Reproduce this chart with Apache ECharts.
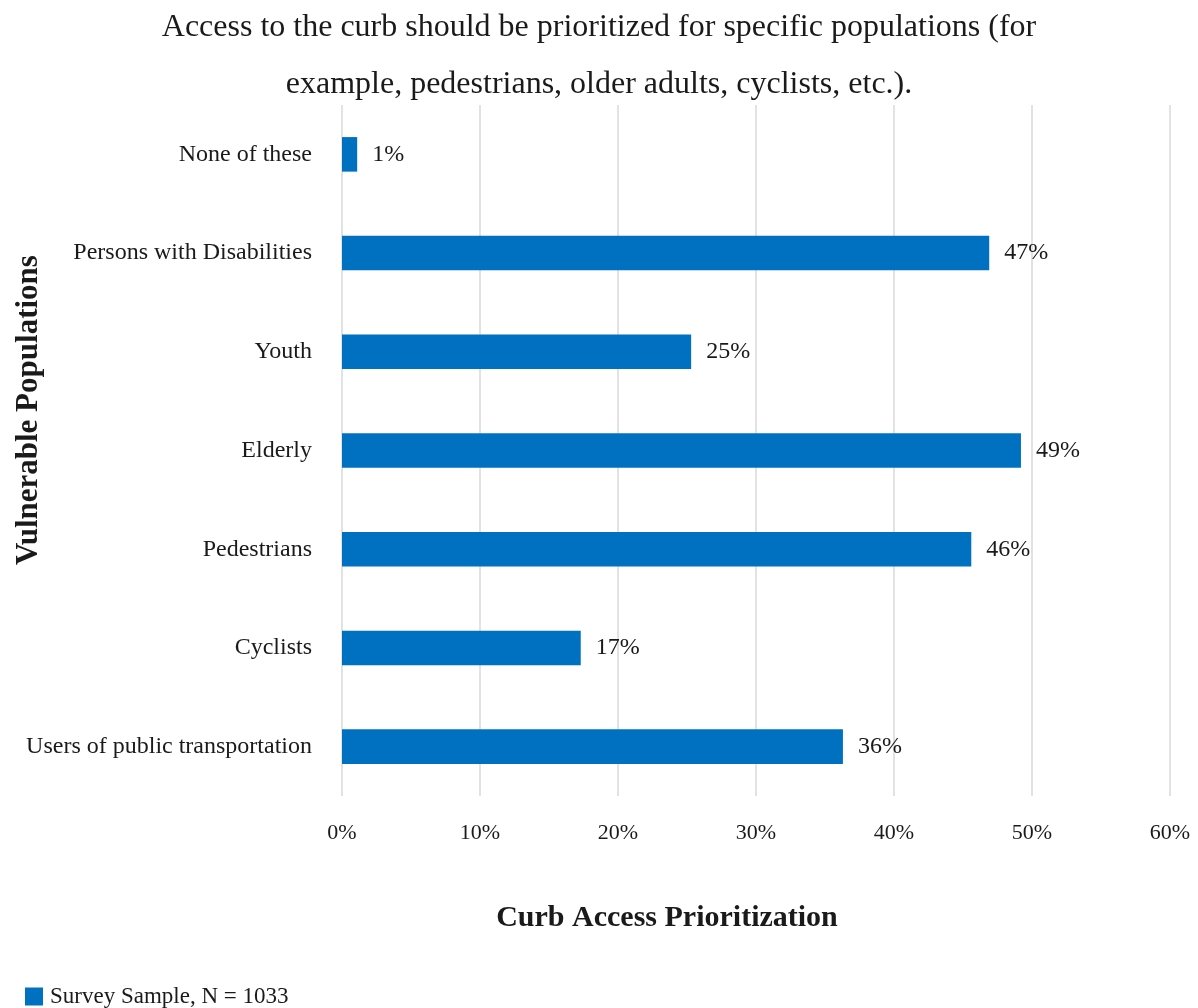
<!DOCTYPE html>
<html>
<head>
<meta charset="utf-8">
<script src="https://cdn.jsdelivr.net/npm/echarts@6/dist/echarts.min.js"></script>
<style>
  html, body { margin: 0; padding: 0; background: #fff; }
  #chart { width: 1198px; height: 1008px; }
</style>
</head>
<body>
<div id="chart"></div>
<script>
// Population groups, listed top to bottom
const categories = [
  'None of these',
  'Persons with Disabilities',
  'Youth',
  'Elderly',
  'Pedestrians',
  'Cyclists',
  'Users of public transportation'
];
// Share of respondents (%) selecting each group
const shares = [1.1, 46.9, 25.3, 49.2, 45.6, 17.3, 36.3];
const seriesName = 'Survey Sample, N = 1033';
const xTicks = { min: 0, max: 60, step: 10 };

const FONT = "'Liberation Serif', 'DejaVu Serif', serif";
const BLUE = '#0070c0';

const chart = echarts.init(document.getElementById('chart'));
chart.setOption({
  backgroundColor: '#ffffff',
  textStyle: { fontFamily: FONT },
  animation: false,
  title: {
    text: 'Access to the curb should be prioritized for specific populations (for\nexample, pedestrians, older adults, cyclists, etc.).',
    left: 'center',
    top: -6,
    textStyle: {
      fontFamily: FONT,
      fontSize: 32,
      fontWeight: 'normal',
      color: '#1a1a1a',
      lineHeight: 57,
      align: 'center'
    }
  },
  legend: {
    left: 20,
    top: 980,
    icon: 'rect',
    itemWidth: 18,
    itemHeight: 18,
    itemGap: 10,
    textStyle: { fontFamily: FONT, fontSize: 23, color: '#1a1a1a', padding: [0, 0, 0, 2] },
    data: [seriesName]
  },
  grid: { left: 342, right: 28, top: 105, bottom: 212, containLabel: false },
  xAxis: {
    type: 'value',
    min: xTicks.min,
    max: xTicks.max,
    interval: xTicks.step,
    axisLine: { show: false },
    axisTick: { show: false },
    splitLine: { lineStyle: { color: '#d9d9d9', width: 1.5 } },
    axisLabel: {
      formatter: '{value}%',
      fontFamily: FONT,
      fontSize: 22,
      color: '#1a1a1a',
      margin: 26
    }
  },
  yAxis: {
    type: 'category',
    inverse: true,
    data: categories,
    axisLine: { show: false },
    axisTick: { show: false },
    axisLabel: {
      fontFamily: FONT,
      fontSize: 24,
      color: '#1a1a1a',
      margin: 30
    }
  },
  graphic: [
    {
      type: 'text',
      x: 667,
      y: 918,
      style: {
        text: 'Curb Access Prioritization',
        font: "bold 30px 'Liberation Serif', 'DejaVu Serif', serif",
        fill: '#1a1a1a',
        textAlign: 'center',
        textVerticalAlign: 'middle'
      }
    },
    {
      type: 'text',
      x: 29,
      y: 410,
      rotation: Math.PI / 2,
      style: {
        text: 'Vulnerable Populations',
        font: "bold 31px 'Liberation Serif', 'DejaVu Serif', serif",
        fill: '#1a1a1a',
        textAlign: 'center',
        textVerticalAlign: 'middle'
      }
    }
  ],
  series: [{
    name: seriesName,
    type: 'bar',
    data: shares,
    barWidth: '35%',
    itemStyle: { color: BLUE },
    label: {
      show: true,
      position: 'right',
      distance: 15,
      fontFamily: FONT,
      fontSize: 24,
      color: '#1a1a1a',
      formatter: p => Math.round(p.value) + '%'
    }
  }]
});
</script>
</body>
</html>
